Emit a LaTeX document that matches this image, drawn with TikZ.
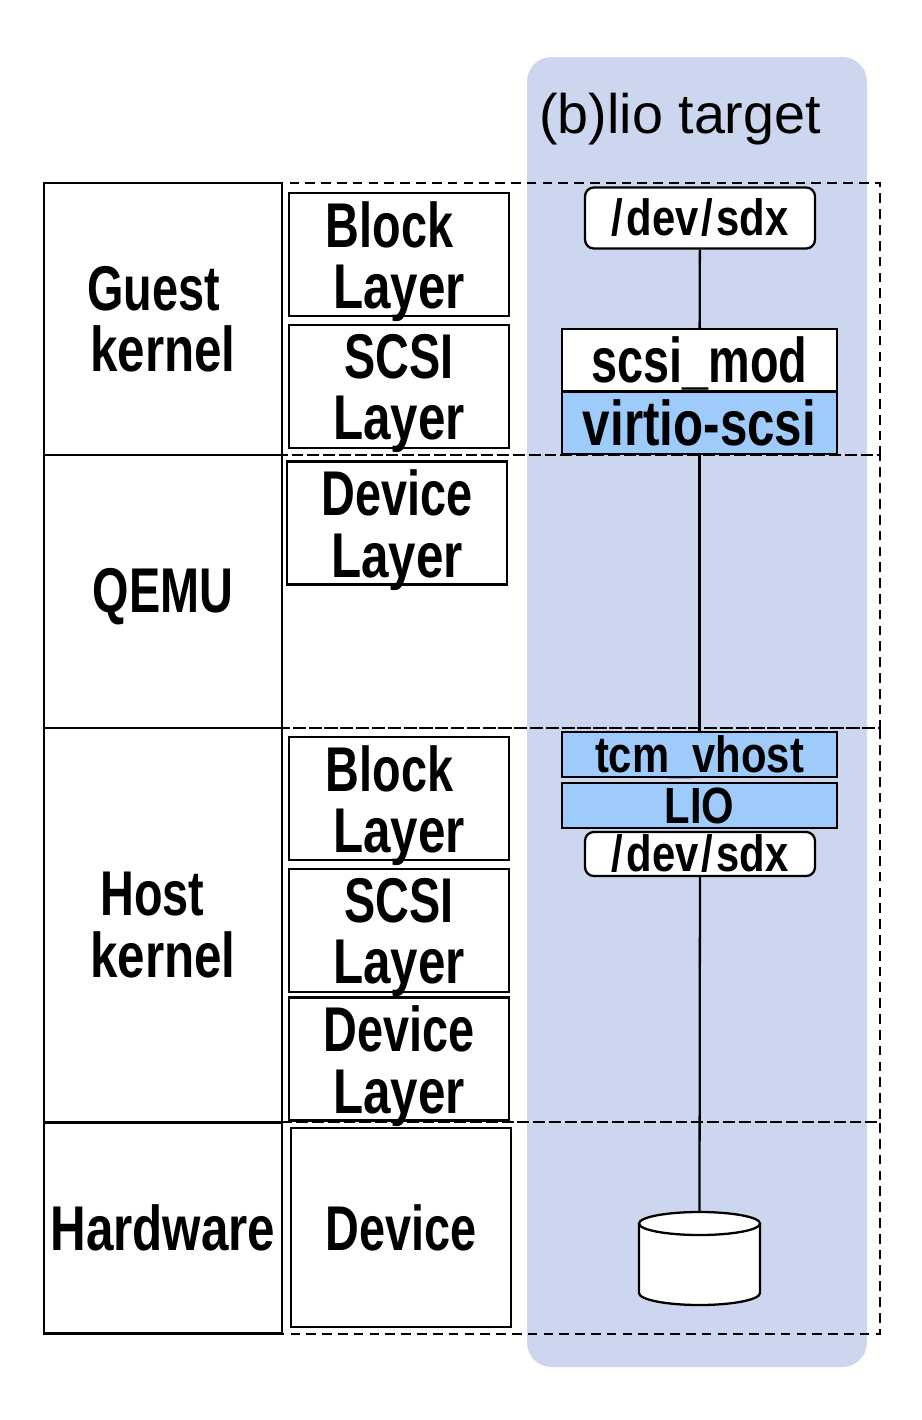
\documentclass[tikz,border=0pt]{standalone}
\usepackage{fontspec}
\setmainfont{Liberation Sans}
\newfontfamily\gothfont[FakeStretch=0.74]{Liberation Sans Bold}
\newfontfamily\widefont[FakeStretch=0.78]{Liberation Sans Bold}
\newfontfamily\smallfont[FakeStretch=0.82]{Liberation Sans Bold}
\usepackage{xcolor}
\usepackage{tikz}
\definecolor{panelblue}{HTML}{CCD6EE}
\definecolor{modblue}{HTML}{9FCBFA}
\tikzset{
    bigtext/.style = {font=\gothfont\fontsize{36}{35}\selectfont, align=center, inner sep=0pt},
    smalltext/.style = {font=\smallfont\fontsize{29}{29}\selectfont, inner sep=0pt, text height=20pt, text depth=0pt},
    lowtext/.style 2 args = {label={[bigtext, yshift=#1]center:{#2}}},
    rowbox/.style = {draw, line width=1.4pt, fill=white, bigtext, minimum width=4.76cm},
    layerbox/.style = {draw, line width=1.3pt, fill=white, bigtext, minimum width=4.4cm, minimum height=2.46cm},
    modbox/.style = {draw, line width=1.4pt, bigtext, minimum width=5.5cm},
    devbox/.style = {draw, line width=1.3pt, fill=white, rounded corners=5pt, minimum width=4.6cm},
    rowline/.style = {line width=1.4pt, dash pattern=on 5.5pt off 3.5pt},
    link/.style = {line width=1.3pt}
}
\begin{document}
\begin{tikzpicture}[x=0.02cm, y=-0.02cm]
    \useasboundingbox (0,0) rectangle (922,1420);

    % background panel
    \fill[panelblue, rounded corners=14pt] (527,57) rectangle (867,1367);
    \node[anchor=base west, inner sep=0pt, font=\fontsize{31.7}{32}\selectfont] (title) at (539,133) {(b)lio target};

    % dashed rows
    \draw[rowline] (44,183) rectangle (880,455);
    \draw[rowline] (44,455) rectangle (880,728);
    \draw[rowline] (44,728) rectangle (880,1122);
    \draw[rowline] (44,1122) rectangle (880,1334);

    % row names
    \node[rowbox, minimum height=5.44cm] (guest) at (163,319) {Guest\kern 11pt\\{\widefont kernel}};
    \node[rowbox, minimum height=5.46cm, lowtext={-3pt}{QEMU}] (qemu) at (163,591.5) {};
    \node[rowbox, minimum height=7.88cm] (host) at (163,925) {Host\kern 12pt\\{\widefont kernel}};
    \node[rowbox, minimum height=4.22cm, font=\widefont\fontsize{36}{35}\selectfont] (hardware) at (163,1228) {Hardware};

    % layers
    \node[layerbox, lowtext={-4pt}{Block\kern 11pt\\{\widefont Layer}}] (gblock) at (399,254.5) {};
    \node[layerbox, lowtext={-4pt}{SCSI\\{\widefont Layer}}] (gscsi) at (399,386.5) {};
    \node[layerbox, lowtext={-4pt}{Device\\{\widefont Layer}}] (qdevice) at (397,523) {};
    \node[layerbox, lowtext={-4pt}{Block\kern 11pt\\{\widefont Layer}}] (hblock) at (399,798.5) {};
    \node[layerbox, lowtext={-4pt}{SCSI\\{\widefont Layer}}] (hscsi) at (399,930.5) {};
    \node[layerbox, lowtext={-4pt}{Device\\{\widefont Layer}}] (hdevice) at (399,1059) {};
    \node[layerbox, minimum height=3.98cm] (device) at (401,1227.5) {Device};

    % modules
    \node[devbox, smalltext, minimum height=1.22cm] (gsdx) at (700,218) {/\kern 2pt dev\kern 1.5pt/\kern 2pt sdx};
    \node[modbox, fill=white, minimum height=1.24cm, lowtext={-1.7pt}{scsi\_mod}] (scsimod) at (699.5,360) {};
    \node[modbox, fill=modblue, minimum height=1.24cm, font=\widefont\fontsize{36}{35}\selectfont] (virtio) at (699.5,423) {virtio-scsi};
    \node[modbox, fill=modblue, smalltext, minimum height=0.9cm] (vhost) at (699.5,754.5) {tcm\_vhost};
    \node[modbox, fill=modblue, smalltext, minimum height=0.9cm] (lio) at (699.5,805.5) {LIO};
    \node[devbox, smalltext, minimum height=0.88cm] (hsdx) at (700,854) {/\kern 2pt dev\kern 1.5pt/\kern 2pt sdx};
    \coordinate (disk) at (699.5,1212);

    % connectors
    \draw[link] (gsdx) -- (scsimod);
    \draw[link] (virtio) -- (vhost);
    \draw[link] (hsdx) -- (disk);

    % disk
    \draw[link, fill=white] (639,1223.5) -- (639,1293) arc[start angle=180, end angle=0, x radius=60.5, y radius=12] -- (760,1223.5);
    \draw[link, fill=white] (699.5,1223.5) ellipse [x radius=60.5, y radius=11.5];
\end{tikzpicture}
\end{document}
